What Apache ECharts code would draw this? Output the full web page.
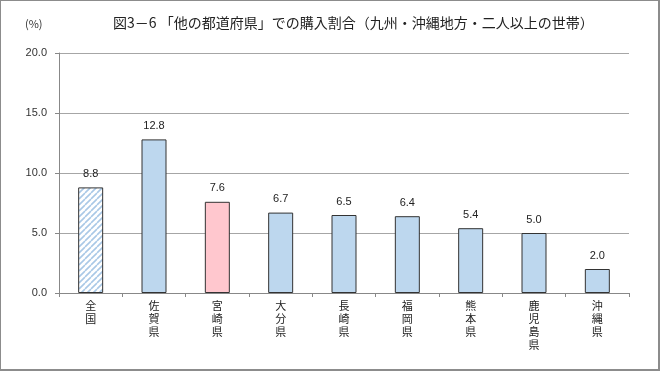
<!DOCTYPE html>
<html><head><meta charset="utf-8">
<script src="https://cdn.jsdelivr.net/npm/echarts@6/dist/echarts.min.js"></script>
<style>html,body{margin:0;padding:0;background:#fff}#c{width:660px;height:371px;box-sizing:border-box;border:1px solid #8c8c8c;border-right:2px solid #8c8c8c;border-bottom:2px solid #8c8c8c}</style>
</head><body><div id="c"></div>
<script>
const categories = ['全国','佐賀県','宮崎県','大分県','長崎県','福岡県','熊本県','鹿児島県','沖縄県'];
const values = [8.8, 12.8, 7.6, 6.7, 6.5, 6.4, 5.4, 5.0, 2.0];
const yTicks = [0, 5, 10, 15, 20];

const pc = document.createElement('canvas');
pc.width = 6; pc.height = 6;
const g = pc.getContext('2d');
g.fillStyle = '#fff'; g.fillRect(0,0,6,6);
g.strokeStyle = '#a9c8e6'; g.lineWidth = 1.6;
g.beginPath();
for (let k = -6; k <= 12; k += 6) { g.moveTo(k, 6); g.lineTo(k + 6, 0); }
g.stroke();

const chart = echarts.init(document.getElementById('c'));
const data = values.map((v, i) => {
  let color = '#bdd7ee';
  if (i === 0) color = {image: pc, repeat: 'repeat'};
  if (i === 2) color = '#ffc7ce';
  return {value: v, itemStyle: {color: color}};
});
chart.setOption({
  animation: false,
  title: {text: '図3－6 「他の都道府県」での購入割合（九州・沖縄地方・二人以上の世帯）', left: 107, top: 10,
    textStyle: {fontSize: 14, fontWeight: 'normal', color: '#222', fontFamily: 'Noto Sans CJK JP'}},
  graphic: [{type: 'text', left: 24, top: 17, style: {text: '(%)', fontSize: 11, fill: '#333', fontFamily: 'Noto Sans CJK JP'}}],
  grid: {left: 58, right: 29, top: 52, bottom: 76},
  xAxis: {type: 'category', data: categories,
    axisLine: {lineStyle: {color: '#888'}},
    axisTick: {show: true, alignWithLabel: false, length: 4, lineStyle: {color: '#888'}},
    axisLabel: {interval: 0, fontSize: 11, color: '#222', lineHeight: 13, margin: 6, fontFamily: 'Noto Sans CJK JP',
      formatter: v => v.split('').join('\n')}},
  yAxis: {type: 'value', min: 0, max: 20, interval: 5,
    axisLine: {show: true, lineStyle: {color: '#888'}},
    axisTick: {show: true, inside: false, length: 4, lineStyle: {color: '#888'}},
    splitLine: {lineStyle: {color: '#a6a6a6'}},
    axisLabel: {fontSize: 11, color: '#333', margin: 12, fontFamily: 'Liberation Sans',
      formatter: v => yTicks.includes(v) ? v.toFixed(1) : ''}},
  series: [{type: 'bar', data: data, barWidth: 25,
    itemStyle: {borderColor: '#333', borderWidth: 1},
    label: {show: true, position: 'top', distance: 8, fontSize: 11, color: '#222', fontFamily: 'Liberation Sans',
      formatter: p => p.value.toFixed(1)}}]
});
</script></body></html>
